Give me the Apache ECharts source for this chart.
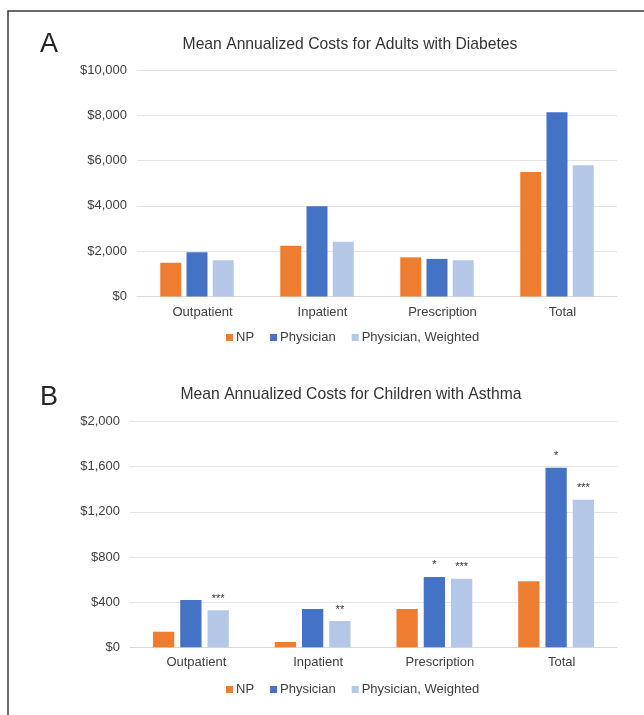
<!DOCTYPE html>
<html>
<head>
<meta charset="utf-8">
<script src="https://cdn.jsdelivr.net/npm/echarts@6/dist/echarts.min.js"></script>
<style>
  html, body { margin: 0; padding: 0; background: #fff; }
  #chart { width: 644px; height: 715px; }
</style>
</head>
<body>
<div id="chart"></div>
<script>
const categories = ['Outpatient', 'Inpatient', 'Prescription', 'Total'];
const seriesNames = ['NP', 'Physician', 'Physician, Weighted'];
const seriesColors = ['#ED7D31', '#4472C4', '#B4C7E7'];

const titleA = 'Mean Annualized Costs for Adults with Diabetes';
const titleB = 'Mean Annualized Costs for Children with Asthma';

const diabetesNP = [1490, 2240, 1730, 5500];
const diabetesPhysician = [1950, 3980, 1660, 8130];
const diabetesWeighted = [1600, 2420, 1600, 5790];

const asthmaNP = [138, 47, 339, 585];
const asthmaPhysician = [419, 339, 623, 1590];
const asthmaWeighted = [328, 233, 608, 1307];
const asthmaNPSig = ['', '', '', ''];
const asthmaPhysicianSig = ['', '', '*', '*'];
const asthmaWeightedSig = ['***', '**', '***', '***'];

const yMaxA = 10000, yStepA = 2000;
const yMaxB = 2000, yStepB = 400;

const FONT = '"Liberation Sans", Arial, sans-serif';
const money = v => '$' + v.toLocaleString('en-US');

const chart = echarts.init(document.getElementById('chart'), null, { renderer: 'canvas' });

function xAxis(gridIndex) {
  return {
    type: 'category', gridIndex, data: categories,
    axisLine: { lineStyle: { color: '#d9d9d9', width: 1 } },
    axisTick: { show: false },
    axisLabel: { color: '#404040', fontSize: 13, fontFamily: FONT, margin: 9, padding: [0, 0, 0, 11] }
  };
}
function yAxis(gridIndex, max, step) {
  return {
    type: 'value', gridIndex, min: 0, max, interval: step,
    axisLine: { show: false }, axisTick: { show: false },
    splitLine: { lineStyle: { color: '#e3e3e3', width: 1 } },
    axisLabel: { color: '#404040', fontSize: 13, fontFamily: FONT, margin: 10, formatter: money }
  };
}
function bar(name, idx, data, color, gap, width, sig) {
  const s = {
    name, type: 'bar', xAxisIndex: idx, yAxisIndex: idx,
    data, barWidth: width, barGap: gap,
    itemStyle: { color },
    emphasis: { disabled: true }
  };
  if (sig) {
    s.label = {
      show: true, position: 'top', distance: 6,
      fontSize: 11, color: '#333333', fontFamily: FONT,
      formatter: p => sig[p.dataIndex]
    };
  }
  return s;
}

const legendBase = {
  data: seriesNames, icon: 'rect', itemWidth: 7, itemHeight: 7, itemGap: 16,
  padding: 0, selectedMode: false,
  textStyle: { color: '#404040', fontSize: 13, fontFamily: FONT, padding: [0, 0, 0, -2] }
};

chart.setOption({
  animation: false,
  color: seriesColors,
  title: [
    { text: titleA, left: 350, top: 37, textAlign: 'center', padding: 0,
      textStyle: { color: '#333333', fontSize: 15.7, fontWeight: 'normal', fontFamily: FONT } },
    { text: titleB, left: 351, top: 387, textAlign: 'center', padding: 0,
      textStyle: { color: '#333333', fontSize: 15.7, fontWeight: 'normal', fontFamily: FONT } },
    { text: 'A', left: 40, top: 31, padding: 0,
      textStyle: { color: '#262626', fontSize: 27, fontWeight: 'normal', fontFamily: FONT } },
    { text: 'B', left: 40, top: 384, padding: 0,
      textStyle: { color: '#262626', fontSize: 27, fontWeight: 'normal', fontFamily: FONT } }
  ],
  legend: [
    Object.assign({}, legendBase, { left: 226, top: 331 }),
    Object.assign({}, legendBase, { left: 226, top: 683 })
  ],
  grid: [
    { left: 137, right: 27, top: 70, height: 226.5, containLabel: false },
    { left: 130, right: 27, top: 421.5, height: 225.8, containLabel: false }
  ],
  xAxis: [xAxis(0), xAxis(1)],
  yAxis: [yAxis(0, yMaxA, yStepA), yAxis(1, yMaxB, yStepB)],
  graphic: [
    { type: 'rect', silent: true, z: 100,
      shape: { x: 8, y: 11, width: 700, height: 800 },
      style: { fill: 'none', stroke: '#3a3a3a', lineWidth: 1.5 } }
  ],
  series: [
    bar(seriesNames[0], 0, diabetesNP, seriesColors[0], '25%', 21),
    bar(seriesNames[1], 0, diabetesPhysician, seriesColors[1], '25%', 21),
    bar(seriesNames[2], 0, diabetesWeighted, seriesColors[2], '25%', 21),
    bar(seriesNames[0], 1, asthmaNP, seriesColors[0], '28%', 21.3, asthmaNPSig),
    bar(seriesNames[1], 1, asthmaPhysician, seriesColors[1], '28%', 21.3, asthmaPhysicianSig),
    bar(seriesNames[2], 1, asthmaWeighted, seriesColors[2], '28%', 21.3, asthmaWeightedSig)
  ]
});
</script>
</body>
</html>
